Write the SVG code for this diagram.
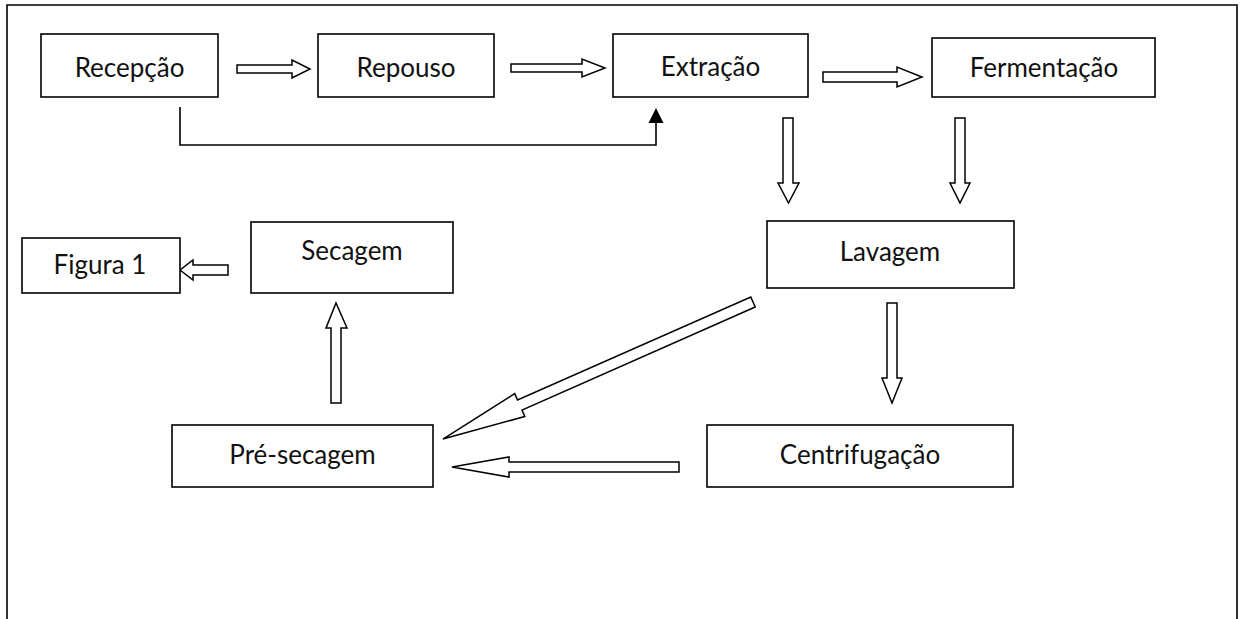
<svg xmlns="http://www.w3.org/2000/svg" width="1243" height="619" viewBox="0 0 1243 619">
<style>
.box{fill:#fff;stroke:#000;stroke-width:1.6}
.lbl{font-family:Lato,"Open Sans","Liberation Sans",sans-serif;font-size:26px;fill:#111;text-anchor:middle}
.blk{fill:#fff;stroke:#000;stroke-width:1.5;stroke-linejoin:miter}
.ln{fill:none;stroke:#000;stroke-width:1.6}
</style>
<rect width="1243" height="619" fill="#fff"/>
<path d="M7,619 V5 H1237 V619" class="ln"/>
<g id="connectors">
  <polygon class="blk" points="237,65 292,65 292,60 310,69 292,78 292,73 237,73"/>
  <polygon class="blk" points="511,64 582,64 582,59 605,68 582,77 582,72 511,72"/>
  <polygon class="blk" points="823,72 897,72 897,67 922,77 897,87 897,82 823,82"/>
  <polyline class="ln" points="180,107 180,145 656,145 656,122"/>
  <polygon points="656,108 648.5,123 663.5,123" fill="#000"/>
  <polygon class="blk" points="783,118 793,118 793,183 799,183 788.5,203 778,183 783,183"/>
  <polygon class="blk" points="955,118 965,118 965,183 970,183 960,203 950,183 955,183"/>
  <polygon class="blk" points="887,303 897,303 897,378 902,378 892,403 882,378 887,378"/>
  <polygon class="blk" points="679,462 679,472 509,472 509,477 452,467 509,457 509,462"/>
  <polygon class="blk" transform="translate(753,302) rotate(156.16)" points="0,-5.5 255,-5.5 255,-12.5 339,0 255,12.5 255,5.5 0,5.5"/>
  <polygon class="blk" points="331,403 341,403 341,328 347,328 336,303 326,328 331,328"/>
  <polygon class="blk" points="228,265 228,275 193,275 193,280 180,270 193,260 193,265"/>
</g>
<g id="recepcao"><rect class="box" x="41" y="34" width="177" height="63"/><text class="lbl" x="129.5" y="77">Recepção</text></g>
<g id="repouso"><rect class="box" x="318" y="34" width="176" height="63"/><text class="lbl" x="406" y="77">Repouso</text></g>
<g id="extracao"><rect class="box" x="613" y="34" width="195" height="63"/><text class="lbl" x="710.5" y="76">Extração</text></g>
<g id="fermentacao"><rect class="box" x="932" y="38" width="223" height="59"/><text class="lbl" x="1044" y="77">Fermentação</text></g>
<g id="lavagem"><rect class="box" x="767" y="221" width="247" height="67"/><text class="lbl" x="890" y="261">Lavagem</text></g>
<g id="centrifugacao"><rect class="box" x="707" y="425" width="306" height="62"/><text class="lbl" x="860" y="464">Centrifugação</text></g>
<g id="presecagem"><rect class="box" x="172" y="425" width="261" height="62"/><text class="lbl" x="302.5" y="464">Pré-secagem</text></g>
<g id="secagem"><rect class="box" x="251" y="222" width="202" height="71"/><text class="lbl" x="352" y="260">Secagem</text></g>
<g id="figura1"><rect class="box" x="22" y="238" width="158" height="55"/><text class="lbl" x="100" y="274">Figura 1</text></g>
</svg>
